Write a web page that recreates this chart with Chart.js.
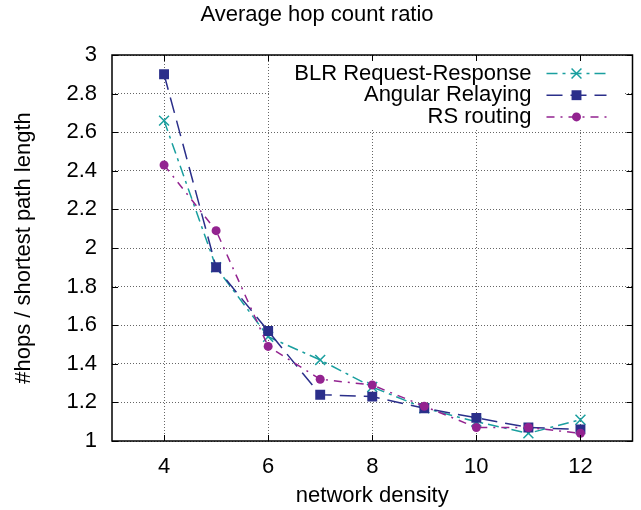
<!DOCTYPE html>
<html>
<head>
<meta charset="utf-8">
<script src="https://cdn.jsdelivr.net/npm/chart.js@4.4.1/dist/chart.umd.min.js"></script>
<style>
  body { margin: 0; background: #fff; }
  #wrap { width: 641px; height: 510px; }
</style>
</head>
<body>
<div id="wrap"><canvas id="hopChart" width="641" height="510"></canvas></div>
<script>
'use strict';

// network density values (x)
var densities = [4, 5, 6, 7, 8, 9, 10, 11, 12];

// average hop count ratio per protocol
var blrValues = [2.66, 1.90, 1.54, 1.42, 1.28, 1.17, 1.10, 1.04, 1.11];
var angularValues = [2.90, 1.90, 1.57, 1.24, 1.23, 1.17, 1.12, 1.07, 1.06];
var rsValues = [2.43, 2.09, 1.49, 1.32, 1.29, 1.18, 1.07, 1.07, 1.04];

var seriesNames = ['BLR Request-Response', 'Angular Relaying', 'RS routing'];

var xTicks = [4, 6, 8, 10, 12];
var yTicks = [1, 1.2, 1.4, 1.6, 1.8, 2, 2.2, 2.4, 2.6, 2.8, 3];
var yTickLabels = ['1', '1.2', '1.4', '1.6', '1.8', '2', '2.2', '2.4', '2.6', '2.8', '3'];

function toPoints(values) {
  return values.map(function (v, i) { return { x: densities[i], y: v }; });
}

Chart.defaults.font.family = '"Liberation Sans", Arial, sans-serif';
Chart.defaults.font.size = 22;
Chart.defaults.color = '#000';

var TICK_LEN = 6;

// gnuplot-like frame, inward ticks and an opaque key in the top right corner
var gnuplotLook = {
  id: 'gnuplotLook',
  beforeDatasetsDraw: function (chart) {
    var a = chart.chartArea, ctx = chart.ctx;
    ctx.save();
    ctx.fillStyle = '#fff';
    ctx.fillRect(a.left + 159, a.top + 1, a.right - a.left - 167, 72);
    ctx.restore();
  },
  afterDatasetsDraw: function (chart) {
    var a = chart.chartArea, ctx = chart.ctx;
    var xs = chart.scales.x, ys = chart.scales.y;
    ctx.save();
    ctx.strokeStyle = '#000';
    ctx.lineWidth = 1;
    ctx.beginPath();
    xTicks.forEach(function (v) {
      var px = Math.round(xs.getPixelForValue(v)) + 0.5;
      ctx.moveTo(px, a.bottom); ctx.lineTo(px, a.bottom - TICK_LEN);
      ctx.moveTo(px, a.top); ctx.lineTo(px, a.top + TICK_LEN);
    });
    yTicks.forEach(function (v) {
      var py = Math.round(ys.getPixelForValue(v)) + 0.5;
      ctx.moveTo(a.left, py); ctx.lineTo(a.left + TICK_LEN, py);
      ctx.moveTo(a.right, py); ctx.lineTo(a.right - TICK_LEN, py);
    });
    ctx.stroke();
    ctx.lineWidth = 1.5;
    ctx.strokeRect(a.left, a.top, a.right - a.left, a.bottom - a.top);

    // key
    var textRight = a.right - 101, x0 = a.right - 86, x1 = a.right - 26, xm = a.right - 56;
    var legendOrder = [0, 1, 2];
    legendOrder.forEach(function (di, row) {
      var ds = chart.data.datasets[di];
      var y = a.top + 18.5 + row * 21.7;
      ctx.fillStyle = '#000';
      ctx.font = '22px "Liberation Sans", Arial, sans-serif';
      ctx.textAlign = 'right';
      ctx.textBaseline = 'middle';
      ctx.fillText(ds.label, textRight, y);
      ctx.strokeStyle = ds.borderColor;
      ctx.lineWidth = ds.borderWidth;
      ctx.setLineDash(ds.borderDash);
      ctx.beginPath();
      ctx.moveTo(x0, y); ctx.lineTo(x1, y);
      ctx.stroke();
      ctx.setLineDash([]);
      ctx.fillStyle = ds.pointBackgroundColor;
      ctx.strokeStyle = ds.pointBorderColor;
      Chart.helpers.drawPoint(ctx, {
        pointStyle: ds.pointStyle,
        radius: ds.pointRadius,
        borderWidth: ds.pointBorderWidth,
        rotation: 0
      }, xm, y);
    });
    ctx.restore();
  }
};

var hopData = {
  datasets: [{
    label: seriesNames[0],
    data: toPoints(blrValues),
    borderColor: '#1a9f9f',
    borderWidth: 1.5,
    borderDash: [11, 5, 3, 5],
    pointStyle: 'crossRot',
    pointRadius: 7,
    pointBorderWidth: 1.5,
    pointBorderColor: '#1a9f9f',
    pointBackgroundColor: '#1a9f9f',
    order: 3
  }, {
    label: seriesNames[1],
    data: toPoints(angularValues),
    borderColor: '#2b2f8a',
    borderWidth: 1.5,
    borderDash: [16, 8],
    pointStyle: 'rect',
    pointRadius: 7,
    pointBorderWidth: 0,
    pointBorderColor: '#2b2f8a',
    pointBackgroundColor: '#2b2f8a',
    order: 2
  }, {
    label: seriesNames[2],
    data: toPoints(rsValues),
    borderColor: '#932390',
    borderWidth: 1.5,
    borderDash: [8, 6, 2, 6],
    pointStyle: 'circle',
    pointRadius: 4.5,
    pointBorderWidth: 0,
    pointBorderColor: '#932390',
    pointBackgroundColor: '#932390',
    order: 1
  }]
};

var hopOptions = {
  responsive: false,
  animation: false,
  layout: { padding: { left: 0, right: 7, top: 0, bottom: 0 } },
  plugins: {
    legend: { display: false },
    tooltip: { enabled: false },
    title: {
      display: true,
      text: 'Average hop count ratio',
      color: '#000',
      font: { size: 22, weight: 'normal' },
      padding: { top: 2, bottom: 26.6 }
    }
  },
  scales: {
    x: {
      type: 'linear',
      min: 3,
      max: 13,
      afterBuildTicks: function (scale) {
        scale.ticks = xTicks.map(function (v) { return { value: v }; });
      },
      afterFit: function (scale) { scale.height = 69; },
      ticks: {
        padding: 13,
        maxRotation: 0,
        callback: function (v) { return String(v); }
      },
      grid: { color: 'rgba(0,0,0,0.6)', lineWidth: 1, drawTicks: false },
      border: { display: false, dash: [1, 2] },
      title: {
        display: true,
        text: 'network density',
        font: { size: 22 },
        padding: { top: 0, bottom: 1 }
      }
    },
    y: {
      type: 'linear',
      min: 1,
      max: 3,
      afterBuildTicks: function (scale) {
        scale.ticks = yTicks.map(function (v) { return { value: v }; });
      },
      afterFit: function (scale) { scale.width = 112; },
      ticks: {
        padding: 15,
        callback: function (v, i) { return yTickLabels[i]; }
      },
      grid: { color: 'rgba(0,0,0,0.6)', lineWidth: 1, drawTicks: false },
      border: { display: false, dash: [1, 2] },
      title: {
        display: true,
        text: '#hops / shortest path length',
        font: { size: 22 },
        padding: { top: 11, bottom: 0 }
      }
    }
  }
};

var hopChart = new Chart(document.getElementById('hopChart').getContext('2d'), {
  type: 'line',
  data: hopData,
  options: hopOptions,
  plugins: [gnuplotLook]
});
</script>
</body>
</html>
